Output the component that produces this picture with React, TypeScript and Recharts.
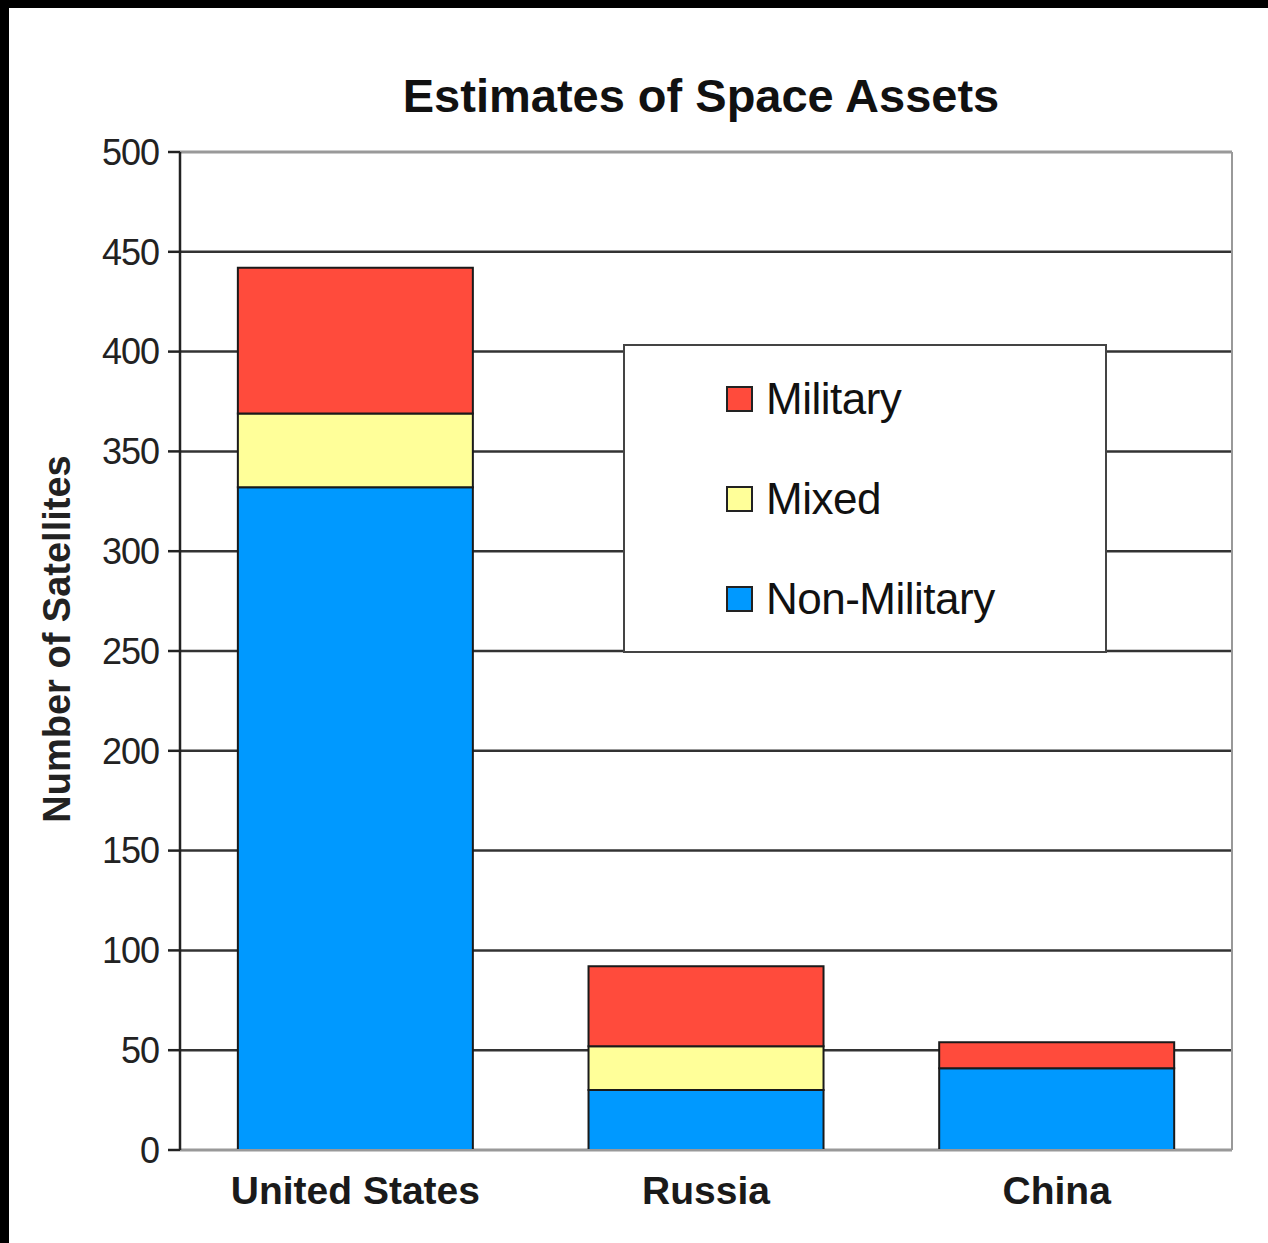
import {
  BarChart,
  Bar,
  XAxis,
  YAxis,
  CartesianGrid,
  Legend,
  ReferenceLine,
} from "recharts";

// ================= DATA =================
const countries = ["United States", "Russia", "China"];
const nonMilitary = [332, 30, 41];
const mixed = [37, 22, 0];
const military = [73, 40, 13];
const yTicks = [0, 50, 100, 150, 200, 250, 300, 350, 400, 450, 500];

// legend order is top to bottom, stacking order is bottom to top
const series = [
  { key: "military", name: "Military", color: "#ff4b3c" },
  { key: "mixed", name: "Mixed", color: "#ffff99" },
  { key: "nonMilitary", name: "Non-Military", color: "#0099ff" },
];

const data = countries.map((name, i) => ({
  name,
  nonMilitary: nonMilitary[i],
  mixed: mixed[i],
  military: military[i],
}));

const FONT = "'Liberation Sans', Arial, sans-serif";
const W = 1268;
const H = 1243;

// ================= LEGEND =================
function LegendBox() {
  return (
    <div
      style={{
        width: "100%",
        height: "100%",
        boxSizing: "border-box",
        border: "2.5px solid #444",
        background: "#fff",
        paddingTop: 3,
        fontFamily: FONT,
      }}
    >
      {series.map((s) => (
        <div
          key={s.key}
          style={{
            height: 100,
            display: "flex",
            alignItems: "center",
            paddingLeft: 101,
          }}
        >
          <span
            style={{
              width: 23,
              height: 22,
              background: s.color,
              border: "2px solid #222",
              marginRight: 13,
              display: "inline-block",
            }}
          />
          <span style={{ fontSize: 44, color: "#111", lineHeight: 1, letterSpacing: -0.5 }}>
            {s.name}
          </span>
        </div>
      ))}
    </div>
  );
}

// ================= Y TITLE =================
// eslint-disable-next-line
function YTitle({ viewBox }: any) {
  const x = viewBox.x - 23;
  const y = viewBox.y + viewBox.height / 2 - 12;
  return (
    <text
      x={x}
      y={y}
      transform={`rotate(-90 ${x} ${y})`}
      textAnchor="middle"
      dominantBaseline="central"
      fontFamily={FONT}
      fontWeight={700}
      fontSize={38}
      fill="#222"
    >
      Number of Satellites
    </text>
  );
}

export default function App() {
  return (
    <div style={{ position: "relative", width: W, height: H, background: "#fff" }}>
      <style>{"body{margin:0}"}</style>
      <div style={{ position: "absolute", left: 0, top: 0, width: W, height: 8, background: "#000" }} />
      <div style={{ position: "absolute", left: 0, top: 0, width: 9, height: H, background: "#000" }} />

      <div
        style={{
          position: "absolute",
          left: 351,
          top: 72,
          width: 700,
          textAlign: "center",
          fontFamily: FONT,
          fontWeight: 700,
          fontSize: 47,
          lineHeight: 1,
          color: "#111",
        }}
      >
        Estimates of Space Assets
      </div>

      <div style={{ position: "absolute", left: 0, top: 0 }}>
        <BarChart
          width={W}
          height={H}
          data={data}
          margin={{ top: 152, right: 35, left: 80, bottom: 0 }}
          barCategoryGap="16.5%"
        >
          <CartesianGrid vertical={false} stroke="#333" strokeWidth={2.5} />
          <XAxis
            dataKey="name"
            height={93}
            tickLine={false}
            tickSize={0}
            tickMargin={26}
            axisLine={{ stroke: "#999", strokeWidth: 2 }}
            tick={{ fontFamily: FONT, fontWeight: 700, fontSize: 39, fill: "#1a1a1a" }}
          />
          <YAxis
            width={100}
            domain={[0, 500]}
            ticks={yTicks}
            interval={0}
            tickSize={12}
            tickMargin={9}
            axisLine={{ stroke: "#222", strokeWidth: 2.5 }}
            tickLine={{ stroke: "#222", strokeWidth: 2.5 }}
            tick={{ fontFamily: FONT, fontSize: 36, fill: "#222", letterSpacing: -1 }}
            label={<YTitle />}
          />
          <YAxis
            yAxisId="right"
            orientation="right"
            width={1}
            domain={[0, 500]}
            tick={false}
            tickLine={false}
            axisLine={{ stroke: "#999", strokeWidth: 2 }}
          />
          <ReferenceLine y={500} stroke="#999" strokeWidth={2} />
          <Legend
            layout="vertical"
            align="center"
            verticalAlign="middle"
            content={() => <LegendBox />}
            wrapperStyle={{ left: 623, top: 344, width: 484, height: 309 }}
          />
          {[...series].reverse().map((s) => (
            <Bar
              key={s.key}
              dataKey={s.key}
              name={s.name}
              stackId="a"
              fill={s.color}
              stroke="#1a1a1a"
              strokeWidth={2}
              isAnimationActive={false}
            />
          ))}
        </BarChart>
      </div>
    </div>
  );
}
